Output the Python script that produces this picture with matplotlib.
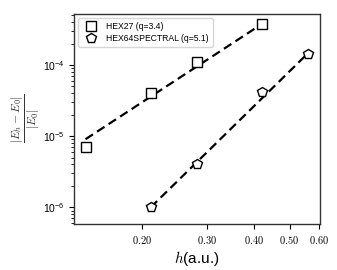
import numpy as np
import matplotlib
matplotlib.use("Agg")
import matplotlib.pyplot as plt
from matplotlib.ticker import FixedLocator, FixedFormatter, NullFormatter, LogLocator

plt.rcParams['mathtext.fontset'] = 'cm'
plt.rcParams['font.family'] = ['Liberation Sans', 'DejaVu Sans']

h27 = [0.1406, 0.211, 0.281, 0.422]
err27 = [7.0e-6, 4.05e-5, 1.12e-4, 3.8e-4]
q27 = 3.4
h64 = [0.211, 0.281, 0.422, 0.5625]
err64 = [1.0e-6, 4.0e-6, 4.2e-5, 1.45e-4]
q64 = 5.1
labels = ["HEX27 (q=3.4)", "HEX64SPECTRAL (q=5.1)"]
xticks = [0.2, 0.3, 0.4, 0.5, 0.6]
xticklabels = ["0.20", "0.30", "0.40", "0.50", "0.60"]

fig = plt.figure(figsize=(3.37, 2.70), dpi=100)
ax = fig.add_axes([0.22, 0.17, 0.73, 0.78])

ax.plot(h27, err27, linestyle='none', marker='s', markersize=7, markerfacecolor='white',
        markeredgecolor='black', markeredgewidth=1.0, label=labels[0], zorder=3)
ax.plot(h64, err64, linestyle='none', marker='p', markersize=7.5, markerfacecolor='white',
        markeredgecolor='black', markeredgewidth=1.0, label=labels[1], zorder=3)

hh = np.array([h27[0], h27[-1]])
ax.plot(hh, err27[-1] * (hh / h27[-1]) ** q27, 'k--', lw=1.6, dashes=(4, 2.2), zorder=2)
hh = np.array([h64[0], h64[-1]])
ax.plot(hh, err64[0] * (hh / h64[0]) ** q64, 'k--', lw=1.6, dashes=(4, 2.2), zorder=2)

ax.set_xscale('log')
ax.set_yscale('log')
ax.set_xlim(0.131, 0.605)
ax.set_ylim(5.8e-7, 5.3e-4)

ax.xaxis.set_major_locator(FixedLocator(xticks))
ax.xaxis.set_major_formatter(FixedFormatter(["$%s$" % t for t in xticklabels]))
ax.xaxis.set_minor_locator(FixedLocator([]))
ax.xaxis.set_minor_formatter(NullFormatter())
ax.yaxis.set_major_locator(LogLocator(base=10))
ax.yaxis.set_minor_locator(LogLocator(base=10, subs=np.arange(2, 10)))
ax.yaxis.set_minor_formatter(NullFormatter())
ax.tick_params(labelsize=7.5)
for s in ax.spines.values():
    s.set_linewidth(1.0)
    s.set_color('#333333')

ax.set_xlabel("$h$(a.u.)", fontsize=11, labelpad=2)
ax.set_ylabel(r"$\frac{|E_h-E_0|}{|E_0|}$", fontsize=12, labelpad=0, color='#333333')

ax.legend(loc='upper left', fontsize=6.2, handletextpad=0.7, borderpad=0.5,
          labelspacing=0.3, markerscale=1.0)

fig.savefig("out.png", dpi=100)
